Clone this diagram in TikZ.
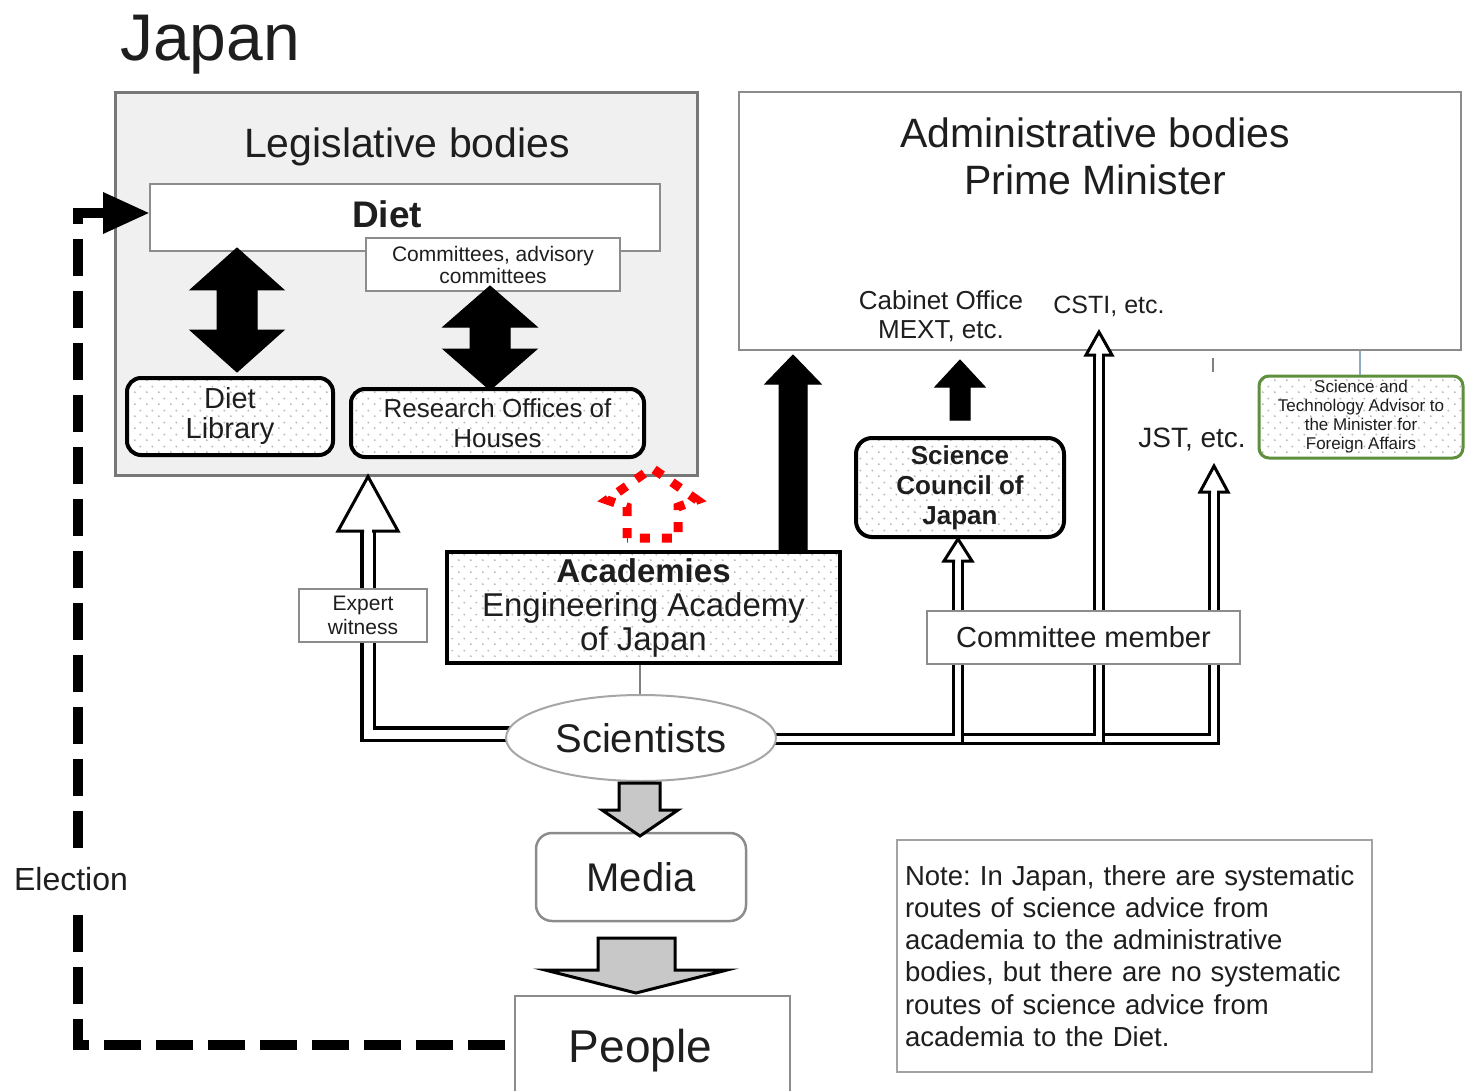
\documentclass[tikz,border=0pt]{standalone}
\usepackage{fontspec}
\setmainfont{Liberation Sans}
\usetikzlibrary{calc,patterns.meta,shapes.geometric}
\definecolor{bordergray}{HTML}{8C8C8C}
\definecolor{legfill}{HTML}{F0F0F0}
\definecolor{arrgray}{HTML}{C8C8C8}
\definecolor{advgreen}{HTML}{5E8F3C}
\definecolor{linkblue}{HTML}{8FA8C4}
\definecolor{txt}{HTML}{1E1E1E}
\newcommand\fsz[2]{\fontsize{#1}{#2}\selectfont}
\frenchspacing
\pgfdeclarelayer{back}
\pgfsetlayers{back,main}
\tikzdeclarepattern{
  name=sdots,
  bounding box={(0pt,0pt) and (12pt,12pt)},
  tile size={(12pt,12pt)},
  code={\pgfpathcircle{\pgfqpoint{3pt}{3pt}}{1.1pt}\pgfpathcircle{\pgfqpoint{9pt}{9pt}}{1.1pt}\pgfusepath{fill}}
}
\tikzset{
  plainbox/.style={draw=bordergray, line width=2.5pt, fill=white, inner sep=0pt, align=center},
  dotbox/.style={draw=black, line width=4pt, preaction={fill=white}, pattern=sdots, pattern color=gray!55, inner sep=0pt, align=center},
  blkarrow/.style={fill=black, draw=black, line width=1pt, line join=miter},
  grayarrow/.style={fill=arrgray, draw=black, line width=3pt, line join=miter},
  hollowL/.style={draw=black, line width=3.5pt, double=white, double distance=9pt},
  hollowR/.style={draw=black, line width=3pt, double=white, double distance=6pt},
  hhead/.style={draw=black, line width=3pt, fill=white, line join=miter},
  plaintext/.style={inner sep=0pt, align=center},
}
\begin{document}
\begin{tikzpicture}[x=1pt,y=-1pt, every node/.style={text=txt}]
\useasboundingbox (0,0) rectangle (1467,1091);
\begin{pgfonlayer}{back}
\fill[white] (0,0) rectangle (1467,1091);
\end{pgfonlayer}

% title
\node[plaintext, anchor=base west, font=\fsz{66}{70}] (japan) at (120,61) {Japan};

% legislative bodies
\node[draw=bordergray!85!black, line width=3pt, fill=legfill, minimum width=582, minimum height=382, inner sep=0pt] (leg) at (406,284) {};
\node[plaintext, anchor=base, font=\fsz{41}{46}] (legt) at (407,158) {Legislative bodies};
\node[plainbox, minimum width=510, minimum height=67,
      label={[font=\fsz{37}{40}\bfseries, xshift=-18pt, yshift=3pt]center:Diet}] (diet) at (405,217.5) {};
\node[plainbox, minimum width=254, minimum height=53, font=\fsz{21}{22}] (comm) at (493,264.5) {Committees, advisory\\committees};
\node[dotbox, rounded corners=14pt, minimum width=206, minimum height=77, font=\fsz{29}{30}] (lib) at (230,416.5) {Diet\\Library};
\node[dotbox, rounded corners=14pt, minimum width=293, minimum height=68, font=\fsz{26}{30}] (res) at (497.5,423) {Research Offices of\\Houses};

% black double arrows
\draw[blkarrow] (237,248) -- (284,290) -- (257,290) -- (257,330) -- (284,330) -- (237,372) -- (190,330) -- (217,330) -- (217,290) -- (190,290) -- cycle;
\draw[blkarrow] (490,286) -- (537,327) -- (510,327) -- (510,349) -- (537,349) -- (490,390) -- (443,349) -- (470,349) -- (470,327) -- (443,327) -- cycle;

% administrative bodies
\node[draw=bordergray, line width=2.5pt, fill=white, minimum width=722, minimum height=258, inner sep=0pt] (admin) at (1100,221) {};
\node[plaintext, font=\fsz{41}{47}] (admt) at (1095,156) {Administrative bodies\\Prime Minister};
\node[plaintext, font=\fsz{26}{29}] (cab) at (941,316) {Cabinet Office\\MEXT, etc.};
\node[plaintext, anchor=base, font=\fsz{25}{28}] (csti) at (1109,314) {CSTI, etc.};
\node[plaintext, anchor=base, font=\fsz{28}{30}] (jst) at (1192,447) {JST, etc.};
\node[dotbox, draw=advgreen, line width=3pt, rounded corners=10pt, minimum width=204, minimum height=82, font=\fsz{17}{19}] (adv) at (1361,417) {Science and\\Technology Advisor to\\the Minister for\\Foreign Affairs};
\draw[linkblue, line width=1.5pt] (1360,0 |- admin.south) -- (1360,0 |- adv.north);
\draw[gray, line width=2pt] (1213,358) -- (1213,372);

% Science Council of Japan
\node[dotbox, rounded corners=16pt, minimum width=208, minimum height=99, font=\fsz{26}{30}\bfseries] (scj) at (960,487.5) {Science\\Council of\\Japan};
\draw[blkarrow] (960,360) -- (985,387) -- (970,387) -- (970,420) -- (950,420) -- (950,387) -- (935,387) -- cycle;

% Academies
\node[dotbox, minimum width=393, minimum height=111, font=\fsz{33}{34}] (acad) at (643.5,607.5) {\textbf{Academies}\\Engineering Academy\\of Japan};
\draw[blkarrow] (793,355) -- (821,384) -- (807,384) -- (807,550) -- (779,550) -- (779,384) -- (765,384) -- cycle;

% red dotted arrow
\draw[red, line width=9pt, dash pattern=on 10pt off 12pt, line join=miter] (627,538) -- (627,507) -- (607,500) -- (652,468) -- (697,500) -- (678,507) -- (678,538) -- cycle;

% scientists
\node[ellipse, draw=gray!70, line width=2pt, fill=white, minimum width=270, minimum height=86, inner sep=0pt, font=\fsz{40}{44}] (sci) at (641,738) {Scientists};
\draw[gray, line width=1.5pt] (640,0 |- acad.south) -- (640,0 |- sci.north);

% hollow arrow shafts
\begin{pgfonlayer}{back}
\draw[hollowR] ($(sci.east)+(-25,1)$) -| (1214,492);
\draw[hollowR] ($(sci.east)+(-25,1)$) -| (1099,355);
\draw[hollowR] ($(sci.east)+(-25,1)$) -| (958,561);
\draw[hollowL] ($(sci.west)+(25,-4)$) -| (368,531);
\end{pgfonlayer}
% hollow arrow heads
\draw[hhead] (364,531) -- (338,531) -- (368,0 |- leg.south) -- (398,531) -- (372,531);
\draw[hhead] (955,561) -- (944,561) -- (958,0 |- scj.south) -- (972,561) -- (961,561);
\draw[hhead] (1096,355) -- (1086,355) -- (1099,332) -- (1112,355) -- (1102,355);
\draw[hhead] (1211,492) -- (1200,492) -- (1214,466) -- (1228,492) -- (1217,492);

% labels on arrows
\node[plainbox, minimum width=313, minimum height=53, font=\fsz{29}{32}] (cm) at (1083.5,637.5) {Committee member};
\node[plainbox, minimum width=128, minimum height=53, font=\fsz{21}{24}] (exp) at (363,615.5) {Expert\\witness};

% media and people
\node[plainbox, rounded corners=16pt, minimum width=210, minimum height=88, font=\fsz{40}{44}] (media) at (641,877) {Media};
\draw[grayarrow] (619,783) -- (660,783) -- (660,810) -- (678,810) -- (640,836) -- (602,810) -- (619,810) -- cycle;
\node[plainbox, minimum width=275, minimum height=104,
      label={[font=\fsz{46}{50}, xshift=-12pt, yshift=-3pt]center:People}] (people) at (652.5,1048) {};
\draw[grayarrow] (598,938) -- (675,938) -- (675,970) -- (727,970) -- (636,993) -- (545,970) -- (598,970) -- cycle;

% note
\node[plainbox, draw=bordergray!80, line width=2pt, inner sep=8pt, minimum width=475, minimum height=232, text width=459, align=left, font=\fsz{27.5}{32.3}] (note) at (1134.5,956) {Note: In Japan, there are systematic\\routes of science advice from\\academia to the administrative\\bodies, but there are no systematic\\routes of science advice from\\academia to the Diet.};

% election
\draw[line width=10pt, dash pattern=on 37pt off 15pt, line join=miter] (104,213) -- (78,213) -- (78,1045) -- (people.west |- 0,1045);
\fill (103,192) -- ([yshift=4.5pt]diet.west) -- (103,234) -- cycle;
\node[plaintext, anchor=base, fill=white, inner xsep=6pt, inner ysep=14pt, font=\fsz{32}{36}] (elec) at (71,890) {Election};
\end{tikzpicture}
\end{document}
